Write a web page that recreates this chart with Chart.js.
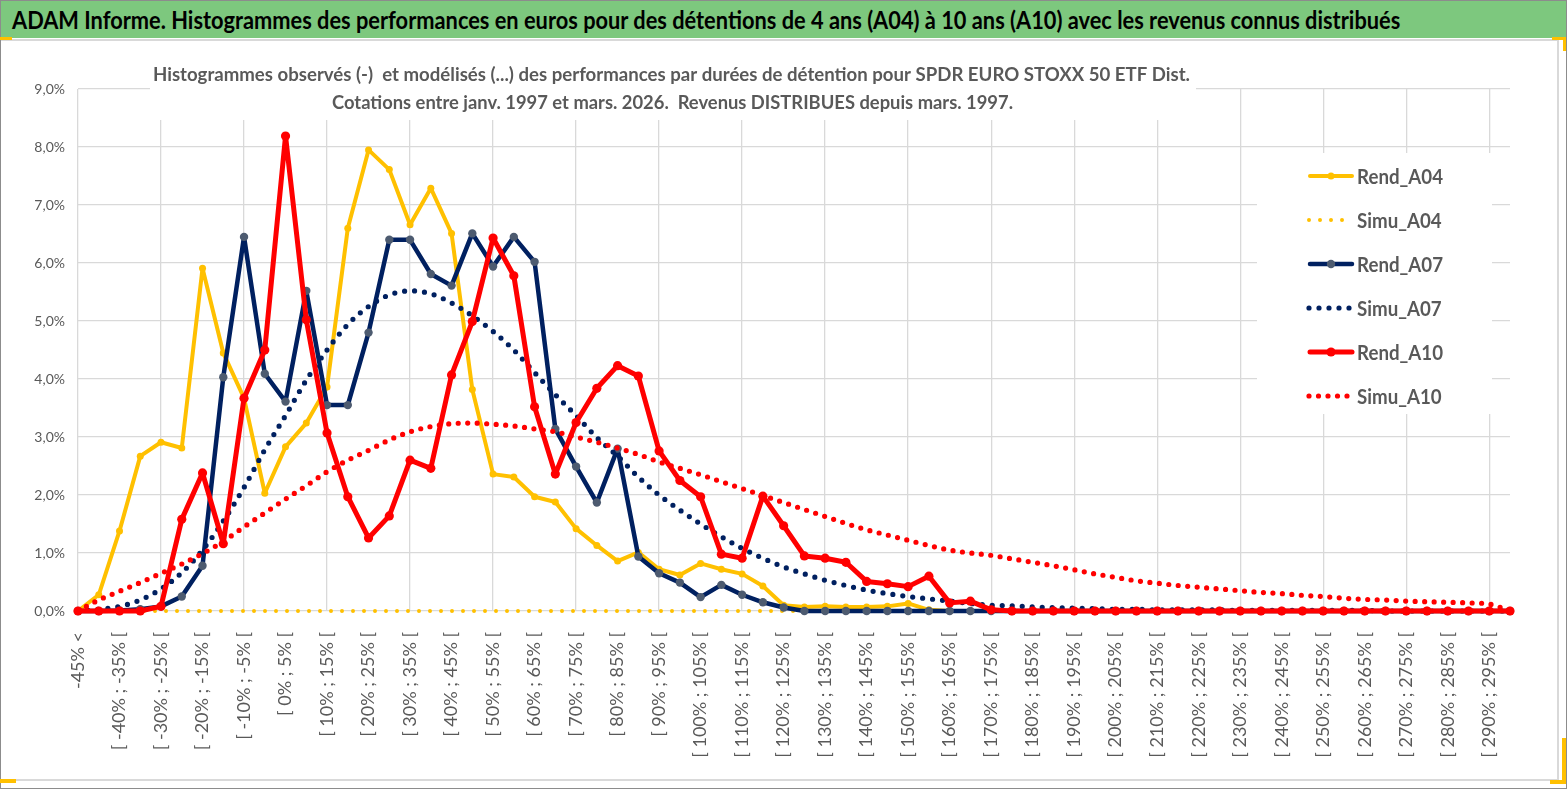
<!DOCTYPE html>
<html lang="fr">
<head>
<meta charset="utf-8">
<title>ADAM Informe - Histogrammes</title>
<script src="https://cdn.jsdelivr.net/npm/chart.js@4.4.1/dist/chart.umd.min.js"></script>
<style>
html, body { margin: 0; padding: 0; background: #fff; }
body { width: 1567px; height: 789px; position: relative; overflow: hidden; font-family: Lato, "Liberation Sans", sans-serif; }
#zone { position: absolute; left: 0; top: 0; width: 1567px; height: 789px; }
#cadre-graph { position: absolute; left: -2px; top: 39px; width: 1557px; height: 738px; border: 2px solid #d9d9d9; }
#bandeau { position: absolute; left: 0; top: 0; width: 1567px; height: 37px; background: #7dc87e; border-top: 1px solid #8c8c8c; z-index: 2; }
#bandeau span { position: absolute; left: 12px; top: 4px; font: bold 24px Lato, sans-serif; color: #000; white-space: nowrap; transform-origin: 0 0; }
#bord { position: absolute; left: 0; top: 0; width: 1565px; height: 787px; border: 1px solid #8c8c8c; z-index: 3; pointer-events: none; }
.poignee { position: absolute; background: #ffc000; z-index: 4; }
</style>
</head>
<body>
<div id="cadre-graph"></div>
<div id="zone"><canvas id="histo"></canvas></div>
<div id="bandeau"><span id="titre">ADAM Informe. Histogrammes des performances en euros pour des détentions de 4 ans (A04) à 10 ans (A10) avec les revenus connus distribués</span></div>
<div id="bord"></div>
<div class="poignee" style="left:0;top:37px;width:12px;height:3px"></div>
<div class="poignee" style="left:1552px;top:37px;width:14px;height:3px"></div>
<div class="poignee" style="left:1563px;top:37px;width:3px;height:14px"></div>
<div class="poignee" style="left:1562px;top:738px;width:4px;height:46px"></div>
<div class="poignee" style="left:1550px;top:780px;width:16px;height:4px"></div>
<div class="poignee" style="left:0;top:779px;width:16px;height:4px"></div>
<script>
// classes de performance (tous les 5 %)
const classes = ["-45% <"];
for (let a = -45; a < 300; a += 5) classes.push("[ " + a + "% ; " + (a + 5) + "% [");

// fréquences observées / modélisées en %
const rendA04 = [0, 0.28, 1.38, 2.67, 2.91, 2.81, 5.91, 4.45, 3.67, 2.03,
  2.83, 3.24, 3.86, 6.60, 7.95, 7.61, 6.66, 7.29, 6.51, 3.82,
  2.36, 2.31, 1.97, 1.88, 1.42, 1.13, 0.86, 1.01, 0.72, 0.62,
  0.82, 0.72, 0.64, 0.43, 0.10, 0.07, 0.08, 0.07, 0.07, 0.08,
  0.13, 0.02, 0, 0, 0, 0, 0, 0, 0, 0,
  0, 0, 0, 0, 0, 0, 0, 0, 0, 0,
  0, 0, 0, 0, 0, 0, 0, 0, 0, 0];
const simuA04 = [0, 0, 0, 0, 0, 0, 0, 0, 0, 0,
  0, 0, 0, 0, 0, 0, 0, 0, 0, 0,
  0, 0, 0, 0, 0, 0, 0, 0, 0, 0,
  0, 0, 0, 0, 0, 0, 0, 0, 0, 0,
  0, 0, 0, 0, 0, 0, 0, 0, 0, 0,
  0, 0, 0, 0, 0, 0, 0, 0, 0, 0,
  0, 0, 0, 0, 0, 0, 0, 0, 0, 0];
const rendA07 = [0, 0, 0.01, 0.03, 0.08, 0.25, 0.78, 4.03, 6.45, 4.09,
  3.61, 5.52, 3.55, 3.55, 4.80, 6.40, 6.40, 5.81, 5.61, 6.51,
  5.94, 6.45, 6.02, 3.14, 2.49, 1.87, 2.80, 0.94, 0.65, 0.49,
  0.24, 0.45, 0.28, 0.15, 0.06, 0, 0, 0, 0, 0,
  0, 0, 0, 0, 0, 0, 0, 0, 0, 0,
  0, 0, 0, 0, 0, 0, 0, 0, 0, 0,
  0, 0, 0, 0, 0, 0, 0, 0, 0, 0];
const simuA07 = [0, 0.03, 0.08, 0.19, 0.38, 0.66, 1.05, 1.55, 2.13, 2.78,
  3.37, 3.98, 4.50, 4.94, 5.25, 5.45, 5.52, 5.47, 5.31, 5.09,
  4.82, 4.50, 4.11, 3.73, 3.37, 2.99, 2.67, 2.31, 2.00, 1.74,
  1.50, 1.28, 1.08, 0.91, 0.76, 0.64, 0.53, 0.44, 0.36, 0.30,
  0.25, 0.21, 0.17, 0.13, 0.10, 0.09, 0.07, 0.06, 0.05, 0.04,
  0.03, 0.03, 0.02, 0.02, 0.02, 0.02, 0.01, 0.01, 0.01, 0.01,
  0.01, 0.01, 0.01, 0, 0, 0, 0, 0, 0, 0];
const rendA10 = [0, 0, 0, 0, 0.08, 1.58, 2.38, 1.16, 3.67, 4.50,
  8.19, 5.02, 3.07, 1.97, 1.26, 1.64, 2.60, 2.46, 4.07, 4.99,
  6.43, 5.78, 3.52, 2.36, 3.25, 3.84, 4.23, 4.05, 2.76, 2.25,
  1.97, 0.98, 0.91, 1.98, 1.47, 0.95, 0.91, 0.84, 0.51, 0.47,
  0.42, 0.60, 0.14, 0.17, 0.02, 0, 0, 0, 0, 0,
  0, 0, 0, 0, 0, 0, 0, 0, 0, 0,
  0, 0, 0, 0, 0, 0, 0, 0, 0, 0];
const simuA10 = [0, 0.19, 0.34, 0.49, 0.65, 0.81, 0.99, 1.20, 1.45, 1.69,
  1.93, 2.16, 2.40, 2.60, 2.77, 2.95, 3.09, 3.18, 3.23, 3.24,
  3.22, 3.19, 3.14, 3.09, 3.00, 2.91, 2.81, 2.70, 2.57, 2.46,
  2.35, 2.23, 2.11, 1.99, 1.87, 1.75, 1.63, 1.51, 1.40, 1.31,
  1.22, 1.13, 1.05, 1.00, 0.96, 0.90, 0.84, 0.78, 0.71, 0.64,
  0.58, 0.52, 0.48, 0.44, 0.41, 0.38, 0.35, 0.32, 0.30, 0.27,
  0.25, 0.22, 0.20, 0.19, 0.17, 0.16, 0.15, 0.14, 0.12, 0];

const sousTitre1 = "Histogrammes observés (-)  et modélisés (...) des performances par durées de détention pour SPDR EURO STOXX 50 ETF Dist.";
const sousTitre2 = "Cotations entre janv. 1997 et mars. 2026.  Revenus DISTRIBUES depuis mars. 1997.";

const GRIS_TEXTE = '#595959';

function serieObservee(label, data, couleur, point, epaisseur, rayon, ordre) {
    return { label, data, borderColor: couleur, backgroundColor: couleur, borderWidth: epaisseur,
        borderJoinStyle: 'round', borderCapStyle: 'round',
        pointRadius: rayon, pointBackgroundColor: point, pointBorderColor: point, pointBorderWidth: 0,
        tension: 0, order: ordre, clip: false, fill: false, modele: false };
}

function serieModele(label, data, couleur, epaisseur, pas, ordre) {
    return { label, data, borderColor: couleur, backgroundColor: couleur, borderWidth: epaisseur,
        borderDash: [0, pas], borderCapStyle: 'round', pointRadius: 0, cubicInterpolationMode: 'monotone',
        order: ordre, clip: false, fill: false, modele: true, pas: pas };
}

// texte étiré horizontalement pour tenir dans une largeur donnée
function texteAjuste(ctx, txt, x, y, largeur) {
    const w = ctx.measureText(txt).width;
    ctx.save();
    ctx.translate(x, y);
    ctx.scale(largeur / w, 1);
    ctx.fillText(txt, 0, 0);
    ctx.restore();
}

const habillage = {
    id: 'habillage',
    afterDraw(chart) {
        const ctx = chart.ctx;
        ctx.save();
        // fonds blancs du titre et de la légende posés sur la zone de tracé
        ctx.fillStyle = '#fff';
        ctx.fillRect(150, 58, 1046, 62);
        ctx.fillRect(1257, 153, 235, 261);

        ctx.fillStyle = GRIS_TEXTE;
        ctx.textBaseline = 'alphabetic';
        ctx.textAlign = 'left';
        ctx.font = 'bold 19px Lato, sans-serif';
        texteAjuste(ctx, sousTitre1, 153, 81, 1037);
        texteAjuste(ctx, sousTitre2, 332, 109, 681);

        // légende
        ctx.font = 'bold 21px Lato, sans-serif';
        const k = 86 / ctx.measureText('Rend_A04').width;
        chart.data.datasets.forEach((ds, i) => {
            const y = 176 + i * 44;
            ctx.save();
            ctx.strokeStyle = ds.borderColor;
            ctx.lineWidth = ds.borderWidth;
            ctx.lineCap = 'round';
            if (ds.modele) {
                ctx.setLineDash([0, ds.pas]);
                ctx.beginPath();
                ctx.moveTo(1309, y);
                ctx.lineTo(1352, y);
                ctx.stroke();
            } else {
                ctx.beginPath();
                ctx.moveTo(1310, y);
                ctx.lineTo(1352, y);
                ctx.stroke();
                ctx.fillStyle = ds.pointBackgroundColor;
                ctx.beginPath();
                ctx.arc(1331, y, ds.pointRadius, 0, Math.PI * 2);
                ctx.fill();
            }
            ctx.restore();
            ctx.save();
            ctx.fillStyle = GRIS_TEXTE;
            ctx.translate(1357, y + 8);
            ctx.scale(k, 1);
            ctx.fillText(ds.label, 0, 0);
            ctx.restore();
        });
        ctx.restore();
    }
};

window.onload = function() {
    const titre = document.getElementById('titre');
    titre.style.transform = 'scaleX(' + (1388 / titre.offsetWidth) + ')';

    new Chart(document.getElementById('histo'), {
        type: 'line',
        data: {
            labels: classes,
            datasets: [
                serieObservee('Rend_A04', rendA04, '#ffc000', '#ffc000', 4, 3.5, 5),
                serieModele('Simu_A04', simuA04, '#ffc000', 4, 11, 4),
                serieObservee('Rend_A07', rendA07, '#002060', '#4d5b70', 4.5, 4.2, 3),
                serieModele('Simu_A07', simuA07, '#002060', 5.2, 10, 2),
                serieObservee('Rend_A10', rendA10, '#ff0000', '#ff0000', 5, 4.6, 1),
                serieModele('Simu_A10', simuA10, '#ff0000', 5.2, 9.5, 0)
            ]
        },
        options: {
            responsive: true,
            maintainAspectRatio: false,
            animation: false,
            events: [],
            layout: { padding: { top: 89, right: 57, left: 0, bottom: 0 } },
            plugins: { legend: { display: false }, tooltip: { enabled: false } },
            scales: {
                x: {
                    afterFit: (s) => { s.height = 178; },
                    border: { display: false },
                    grid: {
                        drawTicks: false,
                        lineWidth: 1.3,
                        color: (c) => (c.index % 4 === 0 ? '#d9d9d9' : 'rgba(0,0,0,0)')
                    },
                    ticks: {
                        autoSkip: false,
                        minRotation: 90,
                        maxRotation: 90,
                        padding: 21,
                        color: GRIS_TEXTE,
                        font: { family: 'Lato', size: 18 },
                        callback: function(v, i) { return i % 2 === 0 ? classes[i] : ''; }
                    }
                },
                y: {
                    min: 0,
                    max: 9,
                    afterFit: (s) => { s.width = 78; },
                    border: { display: false },
                    grid: { drawTicks: false, lineWidth: 1.3, color: '#d9d9d9' },
                    ticks: {
                        stepSize: 1,
                        padding: 13,
                        color: GRIS_TEXTE,
                        font: { family: 'Lato', size: 14 },
                        callback: (v) => v.toFixed(1).replace('.', ',') + '%'
                    }
                }
            }
        },
        plugins: [habillage]
    });
};
</script>
</body>
</html>
